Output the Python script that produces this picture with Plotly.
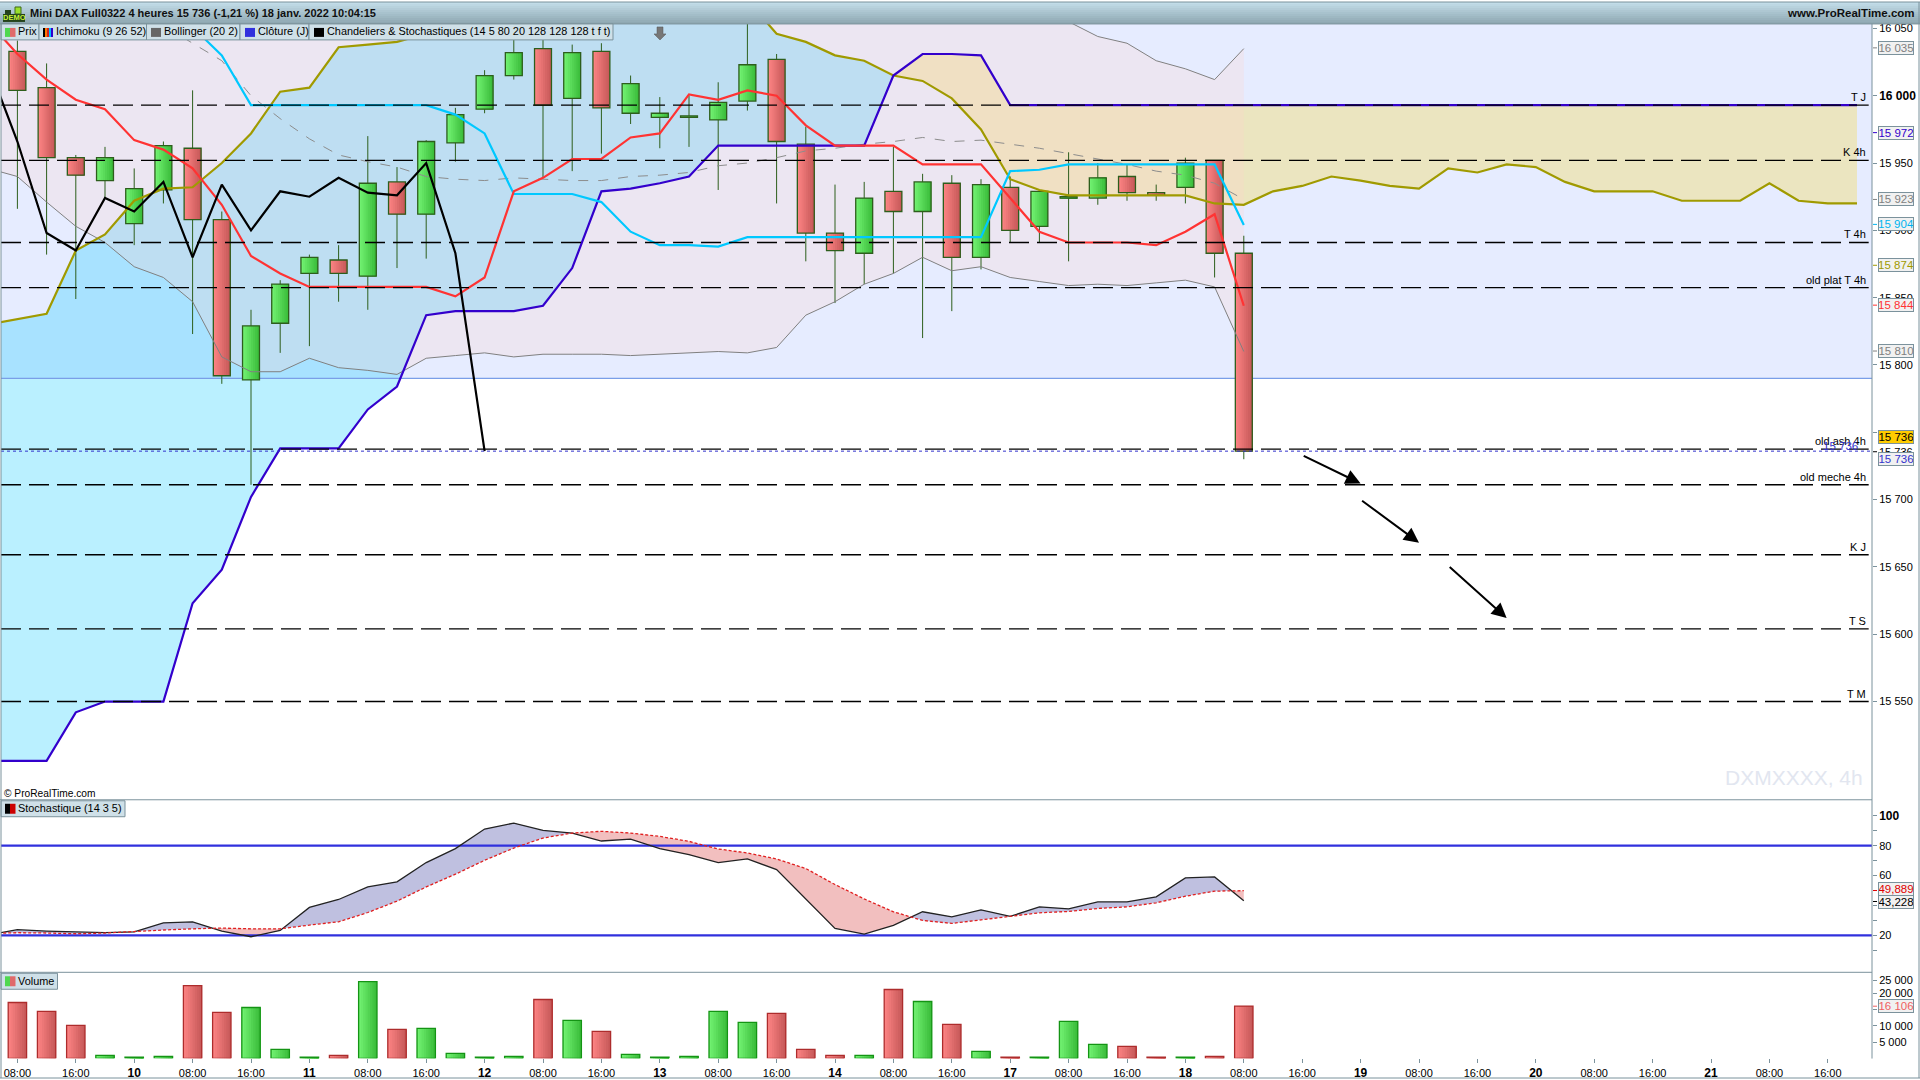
import plotly.graph_objects as go

# candles, one every 4 hours, 0 is the 08:00 bar of the first day
opens = [16033, 16006, 15954, 15937, 15905, 15930, 15961, 15908, 15789, 15831, 15868, 15878, 15866, 15936, 15912,
         15965, 15990, 16015, 16035, 15998, 16033, 15987, 15984, 15984, 15982, 15996, 16027, 15964, 15898, 15883,
         15929, 15914, 15935, 15880, 15932, 15903, 15924, 15924, 15940, 15928, 15932, 15952, 15883]
highs = [16041, 16024, 15956, 15962, 15946, 15966, 16004, 15914, 15841, 15863, 15882, 15889, 15970, 15947, 15967,
         15991, 16019, 16046, 16045, 16038, 16039, 16015, 15999, 16000, 16010, 16056, 16031, 15977, 15934, 15936,
         15962, 15942, 15941, 15938, 15940, 15930, 15958, 15950, 15949, 15934, 15954, 15952, 15896]
lows = [15916, 15882, 15849, 15924, 15889, 15920, 15823, 15786, 15711, 15809, 15814, 15847, 15841, 15872, 15879,
        15951, 15987, 16012, 15939, 15944, 15957, 15979, 15961, 15962, 15930, 15989, 15920, 15877, 15846, 15860,
        15868, 15820, 15840, 15871, 15891, 15891, 15877, 15919, 15922, 15922, 15920, 15865, 15730]
closes = [16004, 15954, 15941, 15954, 15931, 15963, 15908, 15792, 15829, 15860, 15880, 15868, 15935, 15912, 15966,
          15986, 16015, 16032, 15993, 16032, 15991, 16009, 15987, 15985, 15995, 16023, 15966, 15898, 15885, 15924,
          15914, 15936, 15880, 15934, 15900, 15929, 15925, 15939, 15928, 15926, 15950, 15883, 15736]
volumes = [17240, 14470, 10160, 920, 410, 620, 22470, 14160, 15700, 2770, 410, 920, 23700, 8930, 9230, 1540, 410,
           620, 18160, 11700, 8310, 1230, 410, 620, 14470, 11080, 13850, 2770, 920, 920, 21240, 17550, 10470, 2160,
           410, 410, 11390, 4310, 3690, 410, 410, 620, 16106]

# indicators, these start one bar left of the first candle
tenkan = [16055, 16031, 16012, 15997, 15990, 15967, 15960, 15946, 15919, 15881, 15868, 15858, 15858, 15858, 15858,
          15858, 15851, 15865, 15929, 15939, 15953, 15953, 15969, 15972, 16001, 15997, 16004, 16000, 15978, 15963,
          15963, 15963, 15949, 15949, 15949, 15924, 15899, 15891, 15891, 15891, 15889, 15899, 15912, 15844]
kijun = [16066, 16066, 16066, 16066, 16066, 16064, 16062, 16051, 16030, 15993, 15993, 15993, 15993, 15993, 15993,
         15993, 15986, 15972, 15927, 15927, 15927, 15921, 15899, 15889, 15889, 15888, 15895, 15895, 15895, 15895,
         15895, 15895, 15895, 15895, 15895, 15944, 15945, 15949, 15949, 15949, 15949, 15949, 15949, 15904]
boll_up = [16120, 16118, 16115, 16112, 16110, 16108, 16106, 16104, 16102, 16100, 16098, 16096, 16094, 16092, 16090,
           16088, 16086, 16086, 16086, 16088, 16090, 16092, 16094, 16096, 16098, 16100, 16102, 16104, 16102, 16100,
           16098, 16095, 16090, 16085, 16078, 16070, 16062, 16055, 16044, 16039, 16026, 16020, 16012, 16035]
boll_mid = [16072, 16070, 16066, 16062, 16060, 16058, 16052, 16039, 16026, 16000, 15983, 15968, 15956, 15951, 15947,
            15940, 15938, 15937, 15939, 15938, 15937, 15937, 15940, 15941, 15943, 15948, 15950, 15954, 15959, 15961,
            15964, 15966, 15969, 15966, 15967, 15964, 15961, 15957, 15953, 15949, 15944, 15941, 15935, 15923]
boll_low = [15946, 15940, 15921, 15903, 15891, 15873, 15865, 15847, 15806, 15795, 15795, 15805, 15798, 15796, 15793,
            15805, 15807, 15809, 15806, 15808, 15808, 15808, 15807, 15808, 15809, 15810, 15809, 15813, 15837, 15847,
            15860, 15868, 15880, 15870, 15873, 15865, 15862, 15859, 15860, 15859, 15861, 15863, 15858, 15810]
chikou = [16023, 15966, 15898, 15885, 15924, 15914, 15936, 15880, 15934, 15900, 15929, 15925, 15939, 15928, 15926,
          15950, 15883, 15736]
senkou_a = [15830, 15834, 15838, 15885, 15897, 15922, 15931, 15932, 15950, 15972, 16003, 16006, 16036, 16038, 16040,
            16046, 16052, 16058, 16062, 16066, 16068, 16070, 16072, 16074, 16074, 16073, 16071, 16046, 16040, 16030,
            16026, 16015, 16011, 15998, 15975, 15938, 15930, 15926, 15926, 15926, 15926, 15926, 15920, 15919, 15929,
            15933, 15940, 15937, 15933, 15931, 15946, 15943, 15949, 15947, 15936, 15929, 15929, 15929, 15922, 15922,
            15922, 15935, 15922, 15920, 15920]
senkou_b = [15506, 15506, 15506, 15542, 15550, 15550, 15550, 15623, 15648, 15702, 15738, 15738, 15738, 15767, 15784,
            15837, 15840, 15840, 15840, 15844, 15872, 15929, 15931, 15935, 15940, 15963, 15963, 15963, 15963, 15963,
            15963, 16015, 16031, 16031, 16030] + [15993] * 30

stoch_k = [20.4, 23.8, 22.9, 22.2, 21.8, 22.4, 28.4, 29.1, 22.9, 19.1, 23.3, 38.7, 44, 52.4, 55.8, 68.7, 78, 91.1,
           95.1, 90.2, 88.4, 83.1, 84.4, 78, 74, 68.7, 71.1, 64, 44, 24.7, 20.9, 26.7, 35.8, 32.4, 37.1, 32.7, 39.1,
           37.8, 42.4, 42.4, 45.8, 58.4, 59.1, 43.228]
stoch_d = [21.3, 21.8, 21.6, 21.1, 21.6, 22.7, 23.6, 24.4, 24.9, 24.4, 24.4, 26.9, 29.1, 35.3, 42.9, 52.4, 60.9, 70.2,
           78.4, 85.1, 88.4, 89.6, 88.4, 86.2, 82.9, 77.8, 75.1, 71.1, 64.7, 54, 44.4, 35.8, 30, 28, 30.4, 32.9, 35.1,
           36, 38, 39.1, 41.8, 46.2, 49.6, 49.889]

# drawn levels and their names
level_names = ["T J", "K 4h", "T 4h", "old plat T 4h", "old ash 4h", "old meche 4h", "K J", "T S", "T M"]
level_prices = [15993, 15952, 15891, 15857.5, 15737.5, 15711, 15659, 15604, 15550]
zone_price = 15790
last_price = 15736
arrow_x0 = [44, 46, 49]
arrow_y0 = [15733, 15700, 15651]
arrow_x1 = [46, 48, 51]
arrow_y1 = [15712, 15668, 15612]

tick_index = list(range(0, 64, 2))
tick_names = ["08:00", "16:00", "10", "08:00", "16:00", "11", "08:00", "16:00", "12", "08:00", "16:00", "13",
              "08:00", "16:00", "14", "08:00", "16:00", "17", "08:00", "16:00", "18", "08:00", "16:00", "19",
              "08:00", "16:00", "20", "08:00", "16:00", "21", "08:00", "16:00"]
price_ticks = [16050, 16000, 15950, 15900, 15850, 15800, 15750, 15700, 15650, 15600, 15550]
stoch_ticks = [100, 90, 80, 70, 60, 50, 40, 30, 20, 10]
# the reference scale is a little tighter at the top, 25 000 sits lower than a straight scale gives
volume_ticks = [24100, 20000, 15000, 10000, 5000]
volume_names = ["25 000", "20 000", "", "10 000", "5 000"]

FONT = "Liberation Sans"
EDGE = "#7b929c"
PANEL = "#cfe0e8"


def px(x):
    return x / 1920


def py(y):
    return 1 - y / 1080


def spaced(n):
    return f"{n:,}".replace(",", " ")


def strong(txt):
    return f'<span style="font-size:12px"><b>{txt}</b></span>'


def mix(c0, c1, t):
    vals = [round(a + (b - a) * t) for a, b in zip(c0, c1)]
    return f"rgb({vals[0]},{vals[1]},{vals[2]})"


# split the area between two lines where they cross, one polygon list per sign
def split_band(xs, a, b):
    up_x, up_y, down_x, down_y = [], [], [], []

    def flush(run):
        if len(run) < 2:
            return
        total = sum(p[1] - p[2] for p in run)
        px_ = [p[0] for p in run] + [p[0] for p in run[::-1]] + [None]
        py_ = [p[1] for p in run] + [p[2] for p in run[::-1]] + [None]
        if total >= 0:
            up_x.extend(px_)
            up_y.extend(py_)
        else:
            down_x.extend(px_)
            down_y.extend(py_)

    run = [(xs[0], a[0], b[0])]
    for i in range(1, len(xs)):
        d0 = a[i - 1] - b[i - 1]
        d1 = a[i] - b[i]
        if d0 * d1 < 0:
            t = d0 / (d0 - d1)
            xc = xs[i - 1] + (xs[i] - xs[i - 1]) * t
            yc = a[i - 1] + (a[i] - a[i - 1]) * t
            run.append((xc, yc, yc))
            flush(run)
            run = [(xc, yc, yc)]
        run.append((xs[i], a[i], b[i]))
        if d1 == 0:
            flush(run)
            run = [(xs[i], a[i], b[i])]
    flush(run)
    return up_x, up_y, down_x, down_y


def area(xs, ys, color, yaxis="y"):
    return go.Scatter(x=xs, y=ys, mode="none", fill="toself", fillcolor=color, yaxis=yaxis, zorder=0,
                      hoverinfo="skip", showlegend=False)


def line(xs, ys, color, width, dash="solid", yaxis="y", zorder=2):
    return go.Scatter(x=xs, y=ys, mode="lines", line=dict(color=color, width=width, dash=dash), yaxis=yaxis,
                      zorder=zorder, hoverinfo="skip", showlegend=False)


# left to right shading of the bars, each step runs to the right edge so no gaps show
def shaded_bars(xs, base, top, width, is_up, up_edge, down_edge, edge_w, yaxis):
    green = ((112, 240, 112), (60, 190, 60))
    red = ((250, 130, 130), (200, 90, 90))
    steps = 8
    out = []
    heights = [t2 - b for t2, b in zip(top, base)]
    for k in range(steps):
        t = k / (steps - 1)
        colors = [mix(*(green if u else red), t) for u in is_up]
        out.append(go.Bar(x=xs, y=heights, base=base, width=width * (steps - k) / steps,
                          offset=-width / 2 + k * width / steps, marker=dict(color=colors, line=dict(width=0)),
                          yaxis=yaxis, zorder=1, hoverinfo="skip", showlegend=False))
    out.append(go.Bar(x=xs, y=heights, base=base, width=width, offset=-width / 2,
                      marker=dict(color="rgba(0,0,0,0)",
                                  line=dict(width=edge_w, color=[up_edge if u else down_edge for u in is_up])),
                      yaxis=yaxis, zorder=1, hoverinfo="skip", showlegend=False))
    return out


candle_x = list(range(len(closes)))
side_x = list(range(-1, len(closes)))
cloud_x = list(range(-1, 64))
chikou_x = list(range(-1, 17))
is_up = [c >= o for o, c in zip(opens, closes)]
body_low = [min(o, c) for o, c in zip(opens, closes)]
body_high = [max(o, c) for o, c in zip(opens, closes)]

X_RANGE = [-0.5616, 63.5137]

fig = go.Figure()

# background areas, cloud first and the bollinger band over it
ux, uy, dx, dy = split_band(cloud_x, senkou_a, senkou_b)
fig.add_trace(area(ux, uy, "rgba(0,200,255,0.27)"))
fig.add_trace(area(dx, dy, "rgba(250,208,4,0.25)"))
ux, uy, dx, dy = split_band(side_x, boll_up, boll_low)
fig.add_trace(area(ux, uy, "rgba(254,212,204,0.25)"))
fig.add_trace(line(X_RANGE, [zone_price, zone_price], "#7a9ee8", 1.3, zorder=0))

# candles
wick_x, wick_y = [], []
for i in candle_x:
    wick_x += [i, i, None, i, i, None]
    wick_y += [highs[i], body_high[i], None, body_low[i], lows[i], None]
fig.add_trace(line(wick_x, wick_y, "#2d5e1c", 1, zorder=1))
for tr in shaded_bars(candle_x, body_low, body_high, 0.58, is_up, "#2d5e1c", "#2d5e1c", 1.3, "y"):
    fig.add_trace(tr)

# indicators
fig.add_trace(line(side_x, boll_up, "#808080", 1))
fig.add_trace(line(side_x, boll_low, "#808080", 1))
fig.add_trace(line(side_x, boll_mid, "#8c8c8c", 1, dash="10px,10px"))
fig.add_trace(line(cloud_x, senkou_a, "#a09a00", 2.2))
fig.add_trace(line(cloud_x, senkou_b, "#3300cc", 2.2))
fig.add_trace(line(side_x, kijun, "#00c8ff", 2.2))
fig.add_trace(line(side_x, tenkan, "#ff3333", 2.2))
fig.add_trace(line(chikou_x, chikou, "#000000", 2.2))
fig.add_trace(line(X_RANGE, [last_price, last_price], "#3333cc", 1, dash="3px,3px"))

# stochastic pane
ux, uy, dx, dy = split_band(side_x, stoch_k, stoch_d)
fig.add_trace(area(ux, uy, "#bfc0e0", "y2"))
fig.add_trace(area(dx, dy, "#f2bfbf", "y2"))
fig.add_trace(line(X_RANGE, [80, 80], "#3030dd", 2.2, yaxis="y2"))
fig.add_trace(line(X_RANGE, [20, 20], "#3030dd", 2.2, yaxis="y2"))
fig.add_trace(line(side_x, stoch_k, "#222222", 1.3, yaxis="y2"))
fig.add_trace(line(side_x, stoch_d, "#e02020", 1.3, dash="3px,2px", yaxis="y2"))

# volume pane
vol_base = [0] * len(volumes)
for tr in shaded_bars(candle_x, vol_base, volumes, 0.63, is_up, "#149414", "#ad2c2c", 1.3, "y3"):
    fig.add_trace(tr)

shapes = []
annotations = []


def rect(x0, y0, x1, y1, color, border=None, layer="above"):
    shapes.append(dict(type="rect", xref="paper", yref="paper", x0=px(x0), x1=px(x1), y0=py(y0), y1=py(y1),
                       fillcolor=color, line=dict(width=1 if border else 0, color=border or color), layer=layer))


def rule(x0, y0, x1, y1, color=EDGE, width=1):
    shapes.append(dict(type="line", xref="paper", yref="paper", x0=px(x0), x1=px(x1), y0=py(y0), y1=py(y1),
                       line=dict(width=width, color=color), layer="above"))


def label(x, y, text, size=11, color="#000000", anchor="left"):
    annotations.append(dict(xref="paper", yref="paper", x=px(x), y=py(y), text=text, showarrow=False,
                            xanchor=anchor, yanchor="middle", borderpad=0,
                            font=dict(family=FONT, size=size, color=color)))


def value_box(y, text, color, bg="#f1f1f1"):
    annotations.append(dict(xref="paper", yref="paper", x=px(1895.5), y=py(y), text=text, showarrow=False,
                            xanchor="center", yanchor="middle", bgcolor=bg, bordercolor=EDGE, borderwidth=1,
                            borderpad=0, width=34, height=12, font=dict(family=FONT, size=11.5, color=color)))


def stub(y, color):
    rule(1873, y, 1877, y, color)


# zone above the price line, the light blue of the whole upper part
shapes.append(dict(type="rect", xref="paper", yref="y", x0=px(1), x1=px(1872), y0=zone_price, y1=16053.33,
                   fillcolor="#e6ecff", line=dict(width=0), layer="below"))

for name, price in zip(level_names, level_prices):
    shapes.append(dict(type="line", xref="x", yref="y", x0=X_RANGE[0], x1=63.4, y0=price, y1=price,
                       line=dict(color="#000000", width=1.4, dash="20px,8px"), layer="above"))
    annotations.append(dict(xref="paper", yref="y", x=px(1867), y=price, text=name, showarrow=False, xanchor="right",
                            yanchor="bottom", borderpad=0, yshift=1, font=dict(family=FONT, size=11, color="#000000")))
label(1859, 445, "15 736", 11.5, "#3333cc", "right")

for x0, y0, x1, y1 in zip(arrow_x0, arrow_y0, arrow_x1, arrow_y1):
    annotations.append(dict(xref="x", yref="y", axref="x", ayref="y", x=x1, y=y1, ax=x0, ay=y0, text="",
                            showarrow=True, arrowhead=2, arrowsize=1.5, arrowwidth=2, arrowcolor="#000000"))

# top bar
for k in range(11):
    rect(0, k * 2, 1920, k * 2 + 2, mix((194, 220, 232), (143, 168, 178), k / 10))
label(29, 11.5, "<b>Mini DAX Full0322 4 heures 15 736 (-1,21 %) 18 janv. 2022 10:04:15</b>", 11, "#101010")
label(1916, 11.5, "<b>www.ProRealTime.com</b>", 11.5, "#101010", "right")
rule(0, 22, 1920, 22)
rule(0, 0, 1920, 0)

# demo icon
rect(3, 12, 25, 20, "#23421a")
rect(5, 8, 11, 12, "#23421a")
rect(15, 5, 21, 12, "#9be02a", "#3f6a1a")
label(14, 16, "<b>DEMO</b>", 7.5, "#c6f03a", "center")

# legend row
legend_row = [(1, 39, "Prix", 17), (39, 146.5, "Ichimoku (9 26 52)", 55), (146.5, 240, "Bollinger (20 2)", 163),
              (240, 309, "Clôture (J)", 257), (309, 613, "Chandeliers &amp; Stochastiques (14 5 80 20 128 128 128 t f t)", 326)]
for x0, x1, name, tx in legend_row:
    rect(x0, 22, x1, 38, PANEL, EDGE)
    label(tx, 29.5, name, 10.9)
rect(5, 26, 10, 35, "#4fd84f")
rect(10, 26, 15.5, 35, "#e06a6a")
for k, col in enumerate(["#000000", "#ff7700", "#cc2222", "#00bbff", "#3300cc"]):
    rect(43 + k * 2, 26, 45 + k * 2, 35, col)
rect(151, 26, 161, 35, "#666666")
rect(245, 26, 255, 35, "#3030dd")
rect(314, 26, 324, 35, "#000000")

# signal arrow under the legend row
ax = 660
shapes.append(dict(type="path", xref="paper", yref="paper", layer="above", fillcolor="#777777",
                   line=dict(color="#555555", width=0.5),
                   path=f"M {px(ax - 3)},{py(25)} L {px(ax + 3)},{py(25)} L {px(ax + 3)},{py(32)} L {px(ax + 6)},{py(32)} "
                        f"L {px(ax)},{py(38)} L {px(ax - 6)},{py(32)} L {px(ax - 3)},{py(32)} Z"))

label(3, 793.5, "© ProRealTime.com", 10.2)
label(1864, 778, "DXMXXXX, 4h", 21, "#e2e6f0", "right")

# pane headers
rect(1, 801, 125, 817, PANEL, EDGE)
rect(5, 804, 10, 814, "#000000")
rect(10, 804, 15.5, 814, "#cc0000")
label(17, 808.5, "Stochastique (14 3 5)", 10.9)
rect(1, 974, 57.5, 990, PANEL, EDGE)
rect(5, 977, 10, 987, "#4fd84f")
rect(10, 977, 15.5, 987, "#e06a6a")
label(17, 981.5, "Volume", 10.9)

# frame
rule(1, 22, 1, 1079)
rule(1872, 22, 1872, 1059.5)
rule(0, 800, 1872, 800)
rule(0, 973, 1872, 973)
rule(0, 1079, 1920, 1079)
rule(1919, 0, 1919, 1079)

# last values on the right
label(1878, 451, "15 736", 11)
value_box(46, "16 035", "#808080")
value_box(131, "15 972", "#3300cc")
value_box(198, "15 923", "#808080")
value_box(223, "15 904", "#00b4f0")
value_box(264, "15 874", "#a09a00")
value_box(304, "15 844", "#ff3333")
value_box(350, "15 810", "#808080")
value_box(436, "15 736", "#000000", "#ffcc00")
value_box(458, "15 736", "#3333cc")
value_box(889, "49,889", "#e00000")
value_box(903, "43,228", "#000000")
value_box(1007, "16 106", "#f06060")
stub(46, "#808080")
stub(131, "#3300cc")
stub(198, "#808080")
stub(223, "#00b4f0")
stub(264, "#a09a00")
stub(304, "#ff3333")
stub(350, "#808080")
stub(451, "#000000")
stub(891, "#e00000")
stub(902, "#000000")
stub(1007, "#f06060")

price_text = [strong(spaced(t)) if t == 16000 else "" if t == 15750 else spaced(t) for t in price_ticks]
stoch_text = [strong(t) if t == 100 else str(t) if t in (80, 60, 20) else "" for t in stoch_ticks]
tick_text = [strong(t) if ":" not in t else t for t in tick_names]

axis_font = dict(family=FONT, size=11, color="#000000")
y_common = dict(anchor="x", side="right", showgrid=False, zeroline=False, showline=False, ticks="outside", ticklen=4,
                tickcolor=EDGE, tickfont=axis_font, tickmode="array", fixedrange=True)

fig.update_layout(
    width=1920, height=1080, margin=dict(l=0, r=0, t=0, b=0), paper_bgcolor="#ffffff", plot_bgcolor="#ffffff",
    barmode="overlay", showlegend=False, font=dict(family=FONT), hovermode=False,
    shapes=shapes, annotations=annotations,
    xaxis=dict(domain=[px(1), px(1872)], range=X_RANGE, anchor="y3", showgrid=False, zeroline=False, showline=True,
               linecolor=EDGE, linewidth=1, ticks="outside", ticklen=4, tickcolor=EDGE, tickmode="array",
               tickvals=tick_index, ticktext=tick_text, tickfont=axis_font, fixedrange=True),
    yaxis=dict(domain=[py(800), py(22)], range=[15477.04, 16053.33], tickvals=price_ticks, ticktext=price_text, **y_common),
    yaxis2=dict(domain=[py(973), py(800)], range=[-4.67, 110.67], tickvals=stoch_ticks, ticktext=stoch_text, **y_common),
    yaxis3=dict(domain=[py(1059.3), py(973)], range=[0, 26554], tickvals=volume_ticks, ticktext=volume_names, **y_common),
)

fig.write_html("out.html", config=dict(displayModeBar=False), post_script="document.body.style.margin='0';")
